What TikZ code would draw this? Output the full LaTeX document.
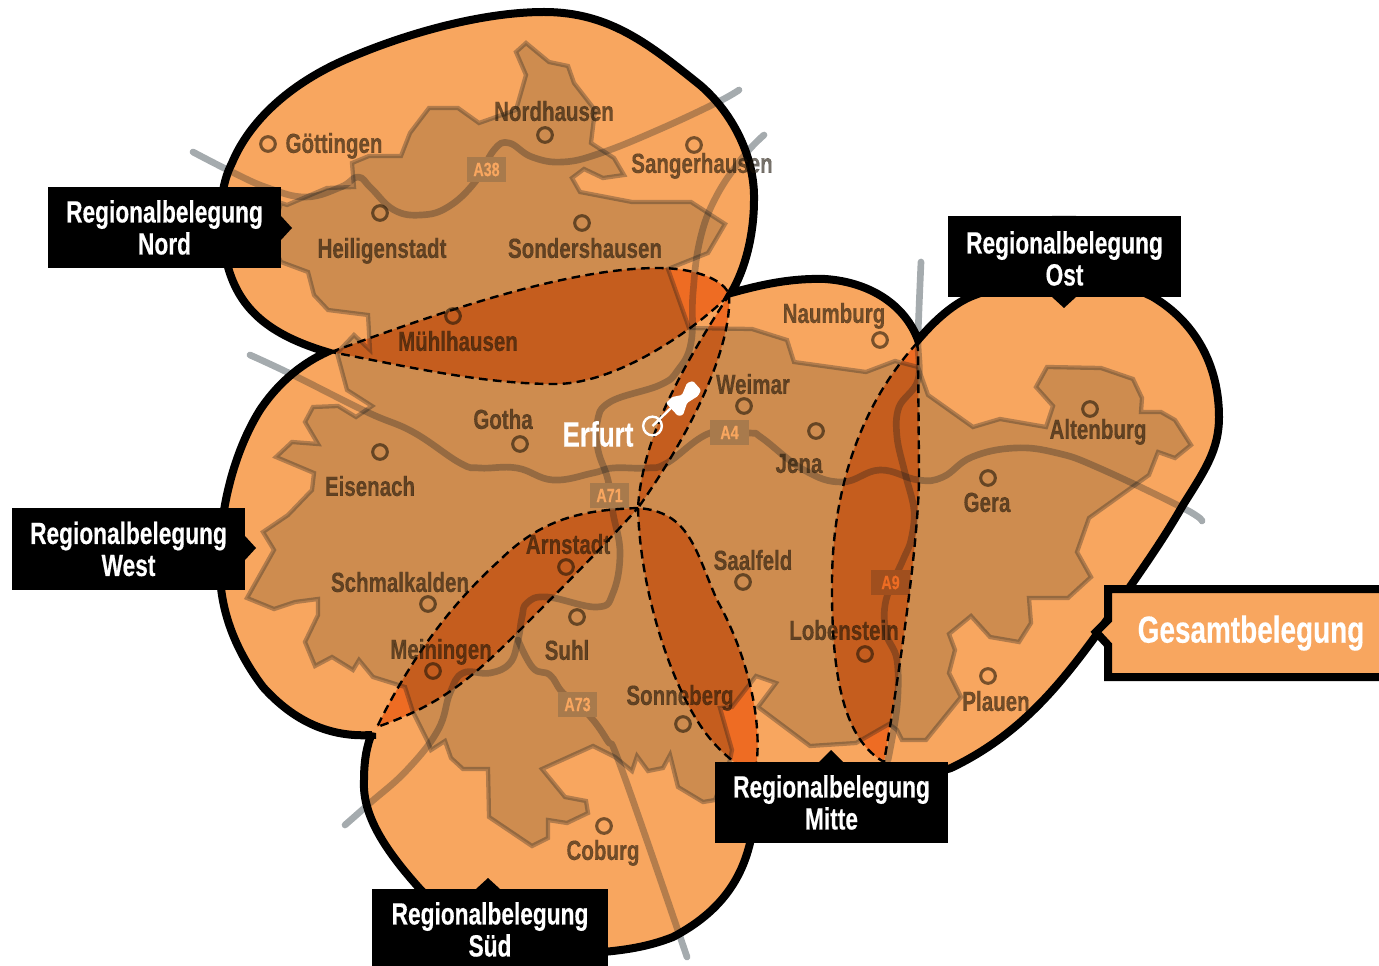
\documentclass[tikz,border=0pt]{standalone}
\usepackage{fontspec}
\setmainfont{Liberation Sans}[FakeStretch=0.74,BoldFeatures={FakeBold=0.4}]
\definecolor{blobc}{HTML}{F8A65F}
\definecolor{lensc}{HTML}{EE6C23}
\definecolor{ink}{HTML}{1A1206}
\definecolor{roadc}{HTML}{00101C}
\definecolor{grayroad}{HTML}{A5ABAE}
\tikzset{
  mapfill/.style={fill={rgb,255:red,25;green,30;blue,10},fill opacity=.19},
  mapedge/.style={draw=roadc,draw opacity=.28,line width=3.2pt,line join=miter},
  road/.style={draw=roadc,draw opacity=.27,line width=5pt,line cap=round,line join=round},
  roadbase/.style={draw=grayroad,line width=5pt,line cap=round,line join=round},
  lensdash/.style={draw=black,line width=1.8pt,dash pattern=on 6.5pt off 4pt},
  city/.style={draw=ink,draw opacity=.58,line width=2.3pt,fill=none,circle,minimum size=11pt,inner sep=0pt},
  place/.style={font=\bfseries\fontsize{20.8}{20.8}\selectfont,text=ink,text opacity=.6,inner sep=0pt,text height=14.9pt,text depth=0pt},
  badge/.style={minimum width=29pt,minimum height=18.6pt,inner sep=0pt,font=\bfseries\fontsize{14.5}{14.5}\selectfont},
  tag/.style={fill=black,text=white,inner sep=0pt,align=center,font=\bfseries\fontsize{23}{24}\selectfont,minimum width=175pt,minimum height=61pt},
}
\def\outline{(327,352) .. controls (270,335) and (240,310) .. (228,267) .. controls (218,230) and (218,190) .. (232,163) .. controls (250,120) and (290,85) .. (340,62) .. controls (400,35) and (480,12) .. (544,12) .. controls (610,12) and (650,45) .. (700,85) .. controls (735,115) and (755,160) .. (754,200) .. controls (754,235) and (745,270) .. (731,293)
 .. controls (760,285) and (790,278) .. (825,279) .. controls (870,282) and (905,305) .. (918,340)
 .. controls (935,320) and (955,302) .. (975,295) .. controls (1040,270) and (1100,270) .. (1153,297) .. controls (1195,322) and (1219,365) .. (1219,417) .. controls (1219,450) and (1205,470) .. (1183,505) .. controls (1160,545) and (1140,572) .. (1100,630) .. controls (1060,685) and (1020,735) .. (951,768) -- (880,790) -- (760,800) -- (755,810) -- (750,843)
 .. controls (740,885) and (715,915) .. (673,937) .. controls (640,950) and (610,952) .. (560,955) .. controls (510,950) and (460,930) .. (420,889) .. controls (385,850) and (362,815) .. (364,780) .. controls (364,760) and (367,745) .. (372,733) -- (372,735)
 .. controls (325,738) and (290,717) .. (263,687) .. controls (235,650) and (220,610) .. (220,570) .. controls (218,510) and (235,450) .. (260,410) .. controls (280,380) and (305,362) .. (327,352) -- cycle}
\def\lensN{(331,352) .. controls (420,320) and (560,268) .. (658,268) .. controls (695,268) and (725,280) .. (729,295) .. controls (700,325) and (620,384) .. (555,384) .. controls (480,384) and (400,365) .. (331,352) -- cycle}
\def\lensE{(729,295) .. controls (732,340) and (700,420) .. (638,508) .. controls (642,440) and (680,370) .. (729,295) -- cycle}
\def\lensW{(638,508) .. controls (590,510) and (545,515) .. (500,560) .. controls (450,605) and (410,660) .. (377,727) .. controls (440,705) and (470,680) .. (517,633) .. controls (560,590) and (600,550) .. (638,508) -- cycle}
\def\lensS{(638,508) .. controls (640,590) and (670,680) .. (700,725) .. controls (715,748) and (735,765) .. (755,775) .. controls (765,720) and (745,650) .. (717,600) .. controls (695,550) and (690,512) .. (638,508) -- cycle}
\def\lensO{(917,343) .. controls (858,408) and (831,495) .. (832,590) .. controls (832,680) and (845,740) .. (884,762) .. controls (895,700) and (920,540) .. (919,470) -- (918,350) -- cycle}
\def\mappath{(526,43) -- (549,62) -- (568,66) -- (574,83) -- (595,110) -- (591,143) -- (614,158) -- (624,175) -- (603,178) -- (584,169) -- (572,178) -- (580,192) -- (632,202) -- (691,202) -- (725,224) -- (708,253) -- (668,269) -- (689,328) -- (752,329) -- (787,340) -- (794,362) -- (866,372) -- (895,361) -- (918,367) -- (928,395) -- (973,427) -- (1000,419) -- (1046,427) -- (1053,406) -- (1036,387) -- (1047,367) -- (1101,368) -- (1133,379) -- (1142,398) -- (1141,412) -- (1161,412) -- (1175,420) -- (1191,445) -- (1175,458) -- (1158,452) -- (1149,475) -- (1089,518) -- (1077,552) -- (1091,577) -- (1068,598) -- (1029,598) -- (1031,623) -- (1019,642) -- (990,637) -- (971,616) -- (949,634) -- (955,650) -- (949,673) -- (961,697) -- (926,740) -- (902,740) -- (897,730) -- (889,724) -- (856,743) -- (810,746) -- (758,707) -- (776,683) -- (756,676) -- (732,707) -- (720,708) -- (732,750) -- (730,760) -- (715,800) -- (703,802) -- (678,787) -- (670,755) -- (663,768) -- (648,771) -- (637,756) -- (632,771) -- (615,757) -- (593,746) -- (542,769) -- (565,797) -- (586,801) -- (588,813) -- (567,823) -- (548,820) -- (548,838) -- (532,846) -- (489,817) -- (488,769) -- (463,769) -- (451,758) -- (445,741) -- (431,750) -- (428,742) -- (413,712) -- (405,687) -- (373,677) -- (359,660) -- (353,670) -- (332,657) -- (315,666) -- (305,642) -- (318,615) -- (318,599) -- (295,602) -- (274,609) -- (247,598) -- (274,550) -- (263,532) -- (288,515) -- (312,490) -- (314,473) -- (276,457) -- (292,442) -- (318,444) -- (305,422) -- (313,407) -- (338,406) -- (356,417) -- (372,406) -- (347,390) -- (337,353) -- (354,335) -- (370,350) -- (368,315) -- (328,310) -- (314,295) -- (308,272) -- (281,262) -- (270,240) -- (281,203) -- (287,205) -- (327,188) -- (354,187) -- (352,163) -- (369,156) -- (401,156) -- (410,133) -- (429,108) -- (458,108) -- (479,123) -- (516,110) -- (526,75) -- (516,52) -- cycle}
\def\roadA{plot[smooth,tension=.7] coordinates {(193,152) (232,172) (268,188) (306,197) (341,187) (358,177) (371,188) (394,210) (421,215) (448,207) (475,182) (494,150) (509,143) (532,157) (563,162) (601,153) (658,130) (716,103) (739,90)}}
\def\roadB{plot[smooth,tension=.7] coordinates {(764,135) (743,157) (716,197) (700,240) (693,293) (691,343) (678,370) (660,385) (610,402) (597,423) (598,450) (608,480) (613,513) (620,553) (613,593) (597,607) (547,597) (527,603) (522,617) (518,640) (510,663) (490,673) (463,673) (450,693) (438,730) (407,770) (370,803) (345,825)}}
\def\roadC{plot[smooth,tension=.7] coordinates {(518,640) (533,668) (550,675) (563,693) (587,713) (607,740) (622,770) (687,957)}}
\def\roadD{plot[smooth,tension=.7] coordinates {(250,355) (293,375) (367,412) (413,432) (460,463) (480,468) (517,468) (553,480) (593,473) (613,468) (647,468) (667,463) (710,433) (750,433) (762,438) (804,470) (842,482) (880,470) (918,480) (943,477) (972,457) (1015,448) (1057,453) (1099,468) (1183,508) (1202,521)}}
\def\roadE{plot[smooth,tension=.6] coordinates {(921,262) (918,337) (918,380) (899,407) (897,437) (905,473) (914,510) (911,540) (903,560) (886,600) (886,633) (897,660) (897,707) (888,760)}}
\begin{document}
\begin{tikzpicture}[x=0.75pt,y=-0.75pt]
\useasboundingbox (0,0) rectangle (1379,966);
% grey road ends, seen outside the region
\path[roadbase] \roadA; \path[roadbase] \roadB; \path[roadbase] \roadC; \path[roadbase] \roadD; \path[roadbase] \roadE;
% base
\fill[blobc] \outline;
\fill[lensc] \lensN; \fill[lensc] \lensE; \fill[lensc] \lensW; \fill[lensc] \lensS; \fill[lensc] \lensO;
\path[mapfill] \mappath;
\path[mapedge] \mappath;
% roads inside the region
\begin{scope}
\clip \outline;
\path[road] \roadA; \path[road] \roadB; \path[road] \roadC; \path[road] \roadD; \path[road] \roadE;
\end{scope}
% badges
\node[badge,fill={rgb,255:red,168;green,122;blue,76},text=blobc] (a38) at (486.5,169.5) {A38};
\node[badge,fill={rgb,255:red,168;green,122;blue,76},text=blobc] (a71) at (609.5,495.5) {A71};
\node[badge,fill={rgb,255:red,168;green,122;blue,76},text=blobc] (a4) at (729.5,432.5) {A4};
\node[badge,fill={rgb,255:red,168;green,122;blue,76},text=blobc] (a73) at (577.5,704.5) {A73};
\node[badge,fill={rgb,255:red,160;green,79;blue,30},text=lensc] (a9) at (890.5,582.5) {A9};
% outline
\draw[black,line width=6pt,line join=miter,miter limit=4] \outline;
% lens outlines
\path[lensdash] \lensN; \path[lensdash] \lensE; \path[lensdash] \lensW; \path[lensdash] \lensS; \path[lensdash] \lensO;
% cities
\foreach \n/\x/\y in {gt/268/144,nh/545/135,sg/694/145,hs/380/213,sd/582/223,mh/453/316,nb/880/340,wm/744/406,jn/816/431,ab/1090/409,gh/520/444,es/380/452,gr/988/478,sf/743/582,as/566/567,sk/428/604,sl/577/617,mg/433/671,lb/865/654,pl/988/676,sb/683/724,cb/604/826}
  \node[city] (c\n) at (\x,\y) {};
\node[place] (tgt) at (334,143) {Göttingen};
\node[place] (tnh) at (554,111) {Nordhausen};
\node[place] (tsg) at (702,163) {Sangerhausen};
\node[place] (ths) at (382,248) {Heiligenstadt};
\node[place] (tsd) at (585,248) {Sondershausen};
\node[place] (tmh) at (458,341) {Mühlhausen};
\node[place] (tnb) at (834,313) {Naumburg};
\node[place] (twm) at (753,384) {Weimar};
\node[place] (tjn) at (799,463) {Jena};
\node[place] (tab) at (1098,429) {Altenburg};
\node[place] (tgh) at (503,419) {Gotha};
\node[place] (tes) at (370,486) {Eisenach};
\node[place] (tgr) at (987,502) {Gera};
\node[place] (tsf) at (753,560) {Saalfeld};
\node[place] (tas) at (568,544) {Arnstadt};
\node[place] (tsk) at (400,582) {Schmalkalden};
\node[place] (tsl) at (567,650) {Suhl};
\node[place] (tmg) at (441,649) {Meiningen};
\node[place] (tlb) at (844,630) {Lobenstein};
\node[place] (tpl) at (996,701) {Plauen};
\node[place] (tsb) at (680,695) {Sonneberg};
\node[place] (tcb) at (603,850) {Coburg};
% Erfurt pin
\node[font=\bfseries\fontsize{26.4}{26.4}\selectfont,text=white,inner sep=0pt] (erf) at (598,434) {Erfurt};
\node[circle,draw=white,line width=1.8pt,minimum size=14pt,inner sep=0pt] (pinc) at (652.5,426) {};
\coordinate (pinb) at (672,407);
\draw[white,line width=1.8pt] (pinc.center) -- (pinb);
\fill[white,rounded corners=1pt] (666,403) -- (672,397) -- (682,395) -- (687,383) -- (693,381) -- (701,390) -- (698,396) -- (687,403) -- (683,415) -- (678,416) -- cycle;
% tags
\fill[black] (281,216) -- (292,228) -- (281,240) -- cycle;
\node[tag] (tagn) at (164.5,227.5) {Regionalbelegung\\Nord};
\fill[black] (245,536) -- (256,548) -- (245,560) -- cycle;
\node[tag] (tagw) at (128.5,549) {Regionalbelegung\\West};
\fill[black] (1052,297) -- (1064,308) -- (1076,297) -- (1076,216) -- (1052,216) -- cycle;
\fill[black] (948,216) rectangle (1181,225);
\node[tag,minimum height=58pt] (tago) at (1064.5,258.5) {Regionalbelegung\\Ost};
\fill[black] (819,762) -- (831,750) -- (843,762) -- cycle;
\node[tag] (tagm) at (831.5,802.5) {Regionalbelegung\\Mitte};
\fill[black] (476,889) -- (488,878) -- (500,889) -- cycle;
\fill[black] (372,889) rectangle (608,900);
\node[tag,minimum width=177pt,minimum height=58pt] (tags) at (490,929.5) {Regionalbelegung\\Süd};
\draw[black,fill=blobc,line width=6pt,miter limit=10] (1108,589) -- (1400,589) -- (1400,677) -- (1108,677) -- (1108,645) -- (1096,632) -- (1108,620) -- cycle;
\node[font=\bfseries\fontsize{28.3}{28.3}\selectfont,text=white,inner sep=0pt] (tagg) at (1251,633) {Gesamtbelegung};
\end{tikzpicture}
\end{document}
